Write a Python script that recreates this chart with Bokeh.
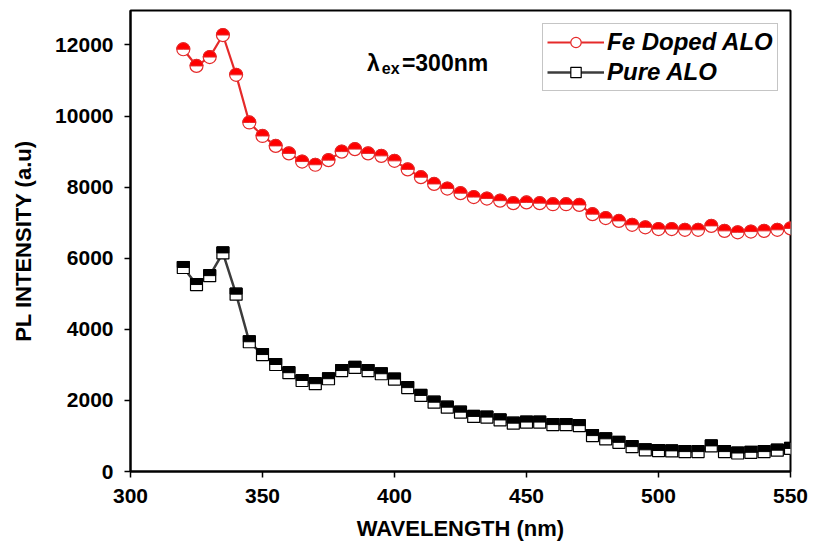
import numpy as np
from bokeh.plotting import figure
from bokeh.models import Range1d, Label, Legend, LegendItem, FixedTicker, ColumnDataSource
from bokeh.embed import file_html
from bokeh.resources import INLINE

# ---------------- data ----------------
wavelength = [320, 325, 330, 335, 340, 345, 350, 355, 360, 365, 370, 375, 380, 385,
              390, 395, 400, 405, 410, 415, 420, 425, 430, 435, 440, 445, 450, 455,
              460, 465, 470, 475, 480, 485, 490, 495, 500, 505, 510, 515, 520, 525,
              530, 535, 540, 545, 550]

fe_doped = [11880, 11410, 11660, 12280, 11160, 9820, 9440, 9160, 8950, 8720, 8630,
            8760, 9000, 9070, 8950, 8880, 8740, 8500, 8280, 8090, 7960, 7830, 7720,
            7680, 7620, 7550, 7570, 7550, 7520, 7520, 7500, 7240, 7130, 7050, 6940,
            6870, 6820, 6820, 6800, 6800, 6910, 6770, 6730, 6750, 6770, 6800, 6840]

pure = [5740, 5260, 5510, 6150, 4990, 3650, 3290, 3010, 2780, 2560, 2470, 2610,
        2840, 2930, 2840, 2750, 2600, 2360, 2140, 1950, 1810, 1670, 1550, 1530,
        1450, 1360, 1390, 1390, 1320, 1320, 1290, 1010, 920, 820, 700, 610, 590,
        580, 560, 560, 720, 560, 520, 540, 560, 600, 650]

x_ticks = [300, 350, 400, 450, 500, 550]
y_ticks = [0, 2000, 4000, 6000, 8000, 10000, 12000]

series_names = ["Fe Doped ALO", "Pure ALO"]

# ---------------- styles ----------------
RED_FILL = "#ff0000"
RED_LINE = "#e52a2a"
DARK = "#3c3c3c"
FONT = "Liberation Sans"

X0, X1 = 300, 550
Y0, Y1 = 0, 12970
W, H = 813, 545
BL, BR, BT, BB = 130, 23, 10, 74
frame_h = H - BT - BB

p = figure(width=W, height=H, output_backend="svg", toolbar_location=None,
           x_range=Range1d(X0, X1), y_range=Range1d(Y0, Y1),
           min_border_left=BL, min_border_right=BR, min_border_top=BT, min_border_bottom=BB)
p.background_fill_color = "white"
p.border_fill_color = "white"
p.xgrid.visible = False
p.ygrid.visible = False
p.outline_line_color = "black"
p.outline_line_width = 2
p.outline_line_alpha = 1

for ax in (p.xaxis[0], p.yaxis[0]):
    ax.axis_line_width = 2
    ax.axis_line_color = "black"
    ax.major_tick_line_width = 1.5
    ax.major_tick_line_color = "black"
    ax.major_tick_in = 0
    ax.major_tick_out = 6
    ax.minor_tick_in = 0
    ax.minor_tick_out = 0
    ax.major_label_text_font = FONT
    ax.major_label_text_font_size = "21px"
    ax.major_label_text_font_style = "bold"
    ax.major_label_text_color = "black"
    ax.major_label_standoff = 11
    ax.axis_label_text_font = FONT
    ax.axis_label_text_font_size = "22px"
    ax.axis_label_text_font_style = "bold"
    ax.axis_label_text_color = "black"

p.xaxis[0].ticker = FixedTicker(ticks=x_ticks)
p.yaxis[0].ticker = FixedTicker(ticks=y_ticks)
p.xaxis[0].axis_label = "WAVELENGTH (nm)"
p.yaxis[0].axis_label = "PL INTENSITY (a.u)"
p.xaxis[0].axis_label_standoff = 10
p.yaxis[0].axis_label_standoff = 16

src = ColumnDataSource(dict(x=wavelength, fe=fe_doped, pure=pure))

# Fe doped series: line, open circles, top-half red wedge
red_line = p.line("x", "fe", source=src, line_color=RED_LINE, line_width=2.2)
red_pts = p.scatter("x", "fe", source=src, marker="circle", size=13,
                    fill_color="white", line_color=RED_LINE, line_width=1.2)
p.wedge("x", "fe", source=src, radius=6.5, radius_units="screen",
        start_angle=0, end_angle=np.pi, fill_color=RED_FILL,
        line_color=RED_LINE, line_width=1)

# Pure series: line, open squares, top-half black block
blk_line = p.line("x", "pure", source=src, line_color=DARK, line_width=2.5)
blk_pts = p.scatter("x", "pure", source=src, marker="square", size=12,
                    fill_color="white", line_color="black", line_width=1.2)
half_px = 3.0
dy = half_px * (Y1 - Y0) / frame_h
src_top = ColumnDataSource(dict(x=wavelength, y=[v + dy for v in pure]))
p.rect("x", "y", source=src_top, width=12, height=6, width_units="screen",
       height_units="screen", fill_color="black", line_color="black", line_width=1)

legend = Legend(items=[LegendItem(label=series_names[0], renderers=[red_line, red_pts]),
                       LegendItem(label=series_names[1], renderers=[blk_line, blk_pts])],
                location=(412, 380))
legend.label_text_font = FONT
legend.label_text_font_size = "24px"
legend.label_text_font_style = "bold italic"
legend.label_text_color = "black"
legend.glyph_width = 57
legend.glyph_height = 26
legend.label_standoff = 3
legend.padding = 4
legend.spacing = 2
legend.margin = 0
legend.border_line_color = "#8c8c8c"
legend.border_line_width = 1
legend.background_fill_color = "white"
legend.background_fill_alpha = 1
p.add_layout(legend, "center")

# annotation: lambda_ex = 300nm
p.add_layout(Label(x=389.6, y=11500, text="λ", text_font=FONT, text_font_size="23px",
                   text_font_style="bold", text_color="black", text_baseline="alphabetic"))
p.add_layout(Label(x=395.2, y=11330, text="ex", text_font=FONT, text_font_size="16px",
                   text_font_style="bold", text_color="black", text_baseline="alphabetic"))
p.add_layout(Label(x=402.8, y=11500, text="=300nm", text_font=FONT, text_font_size="23px",
                   text_font_style="bold", text_color="black", text_baseline="alphabetic"))

open("out.html", "w").write(file_html(p, INLINE))
